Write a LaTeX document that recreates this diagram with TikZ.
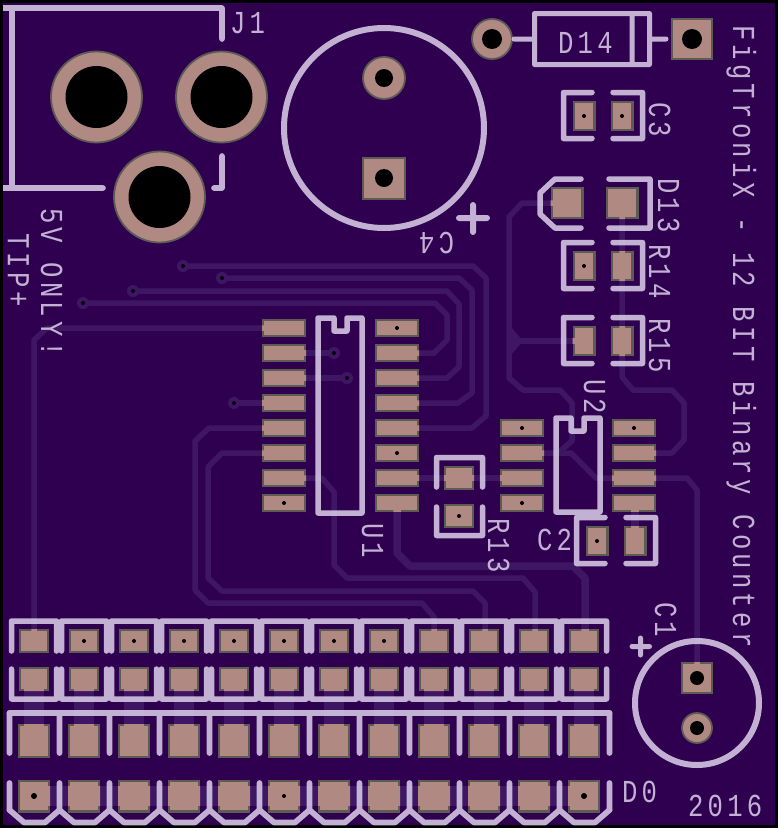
\documentclass[tikz,border=0pt]{standalone}
\usepackage{fontspec}
\setmainfont[FakeStretch=0.8,LetterSpace=13.4]{Liberation Mono}
\definecolor{board}{HTML}{300050}
\definecolor{trace}{HTML}{3E1664}
\definecolor{silk}{HTML}{DCD1EB}
\definecolor{padfill}{HTML}{B08A82}
\definecolor{padedge}{HTML}{5C5C54}
\tikzset{
  x=1pt,y=-1pt,
  tr/.style={line width=5.5pt,line join=round,line cap=butt},
  trwide/.style={line width=20pt,line cap=butt},
  sk/.style={draw=silk,line width=5.7pt,line join=round,line cap=round},
  skthin/.style={draw=silk,line width=5.5pt,line join=round,line cap=round},
  lbl/.style={text=silk,inner sep=0pt,outer sep=0pt,font=\fontsize{32}{32}\selectfont},
  lblv/.style={lbl,rotate=-90,anchor=base west},
  lblh/.style={lbl,anchor=base west},
  hole/.style={fill=black,draw=none},
  padr/.style={fill=padfill,draw=padedge,line width=2.2pt},
  viaring/.style={fill=trace,draw=none}
}
% rectangular pads: x/y/w/h
\newcommand\smdlist{584/116/23/30,622/116/23/30,567/203/33/32,622/203/33/32,584/266/23/30,622/266/23/30,584/341/23/30,622/341/23/30,%
 284/328/44/17.5,284/353/44/17.5,284/378/44/17.5,284/403/44/17.5,284/428/44/17.5,284/453/44/17.5,284/478/44/17.5,284/503/44/17.5,%
 397/328/44/17.5,397/353/44/17.5,397/378/44/17.5,397/403/44/17.5,397/428/44/17.5,397/453/44/17.5,397/478/44/17.5,397/503/44/17.5,%
 522/428/44/17.5,522/453/44/17.5,522/478/44/17.5,522/503/44/17.5,634/428/44/17.5,634/453/44/17.5,634/478/44/17.5,634/503/44/17.5,%
 459/478/30/24,459/516/30/24,597/541/23/30,635/541/23/30,697/678/32/32}
\newcommand\rowlist{641/30/24,679/30/24,741/32/34,796/32/33}
\newcommand\alltraces[1]{%
 \begin{scope}[draw=#1]
 \draw[tr] (183,266) -- (473,266) -- (486,278) -- (486,416) -- (472,428) -- (397,428);
 \draw[tr] (222,278) -- (459,278) -- (472,290) -- (472,393) -- (458,403) -- (397,403);
 \draw[tr] (133,291) -- (447,291) -- (459,304) -- (459,367) -- (447,378) -- (397,378);
 \draw[tr] (83,303) -- (435,303) -- (447,315) -- (447,340) -- (434,353) -- (397,353);
 \draw[tr] (284,328) -- (47,328) -- (34,340) -- (34,641);
 \draw[tr] (284,353) -- (334,353);
 \draw[tr] (284,378) -- (347,378);
 \draw[tr] (284,403) -- (234,403);
 \draw[tr] (284,428) -- (209,428) -- (195,441) -- (195,590) -- (208,603) -- (422,603) -- (434,617) -- (434,641);
 \draw[tr] (284,453) -- (222,453) -- (208,467) -- (208,578) -- (222,591) -- (473,591) -- (485,603) -- (485,641);
 \draw[tr] (284,478) -- (322,478) -- (334,492) -- (334,565) -- (347,578) -- (523,578) -- (535,592) -- (535,641);
 \draw[tr,line width=7.5pt] (397,503) -- (397,553) -- (410,566) -- (573,566) -- (585,578) -- (585,641);
 \draw[tr] (397,478) -- (522,478);
 \draw[tr] (522,453) -- (571,453) -- (596,478) -- (634,478) -- (687,478) -- (697,490) -- (697,678);
 \draw[tr] (634,453) -- (672,453) -- (684,440) -- (684,403) -- (672,390) -- (633,390) -- (622,377) -- (622,203);
 \draw[tr] (567,203) -- (522,203) -- (509,217) -- (509,378) -- (523,390) -- (560,390) -- (572,403) -- (572,441) -- (558,453);
 \draw[tr] (584,341) -- (509,341);
 \draw[tr,line width=8pt] (634.5,503) -- (634.5,541);
 \foreach \i in {0,...,11} { \draw[trwide] ({34+50*\i},679) -- ({34+50*\i},741); }
 \draw[trwide] (34,796) -- (584,796);
 \end{scope}}
\begin{document}
\begin{tikzpicture}
\useasboundingbox (0,0) rectangle (778,828);
\fill[black] (0,0) rectangle (778,828);
\begin{scope}
\clip (3,3) rectangle (775,825);
\fill[board] (3,3) rectangle (775,825);
% copper
\alltraces{trace}
\fill[trace] (511,327) -- (523,341) -- (511,355) -- cycle;
\foreach \vx/\vy in {183/266,222/278,133/291,83/303,334/353,347/378,234/403}{
  \fill[viaring] (\vx,\vy) circle (6);
  \fill[hole] (\vx,\vy) circle (2);
}
% through-hole round pads
\foreach \cx/\cy/\ro in {96.5/97/45.5,221.5/97/45.5,159.5/197/45.5,384/78/21,492/39/20,697/728/15}{
  \filldraw[fill=padfill,draw=padedge,line width=1.8pt] (\cx,\cy) circle (\ro);
}
% rectangular pads
\foreach \x/\y/\w/\h in \smdlist {
  \filldraw[padr] ({\x-\w/2+1.1},{\y-\h/2+1.1}) rectangle ({\x+\w/2-1.1},{\y+\h/2-1.1});
}
\filldraw[padr] (363.1,158.1) rectangle (404.9,198.9);
\filldraw[padr] (672.1,19.1) rectangle (711.9,58.9);
\foreach \i in {0,...,11}{
  \foreach \y/\w/\h in \rowlist {
    \filldraw[padr] ({34+50*\i-\w/2+1.1},{\y-\h/2+1.1}) rectangle ({34+50*\i+\w/2-1.1},{\y+\h/2-1.1});
  }
}
% traces entering pads take the pad colour
\begin{scope}
\clip \foreach \x/\y/\w/\h in \smdlist { ({\x-\w/2},{\y-\h/2}) rectangle ({\x+\w/2},{\y+\h/2}) }
      \foreach \i in {0,...,11} { \foreach \y/\w/\h in \rowlist { ({34+50*\i-\w/2},{\y-\h/2}) rectangle ({34+50*\i+\w/2},{\y+\h/2}) } };
\alltraces{padfill}
\end{scope}
% drilled holes
\foreach \cx/\cy/\ri in {96.5/97/31,221.5/97/31,159.5/197/31,384/78/9,384/178/9,492/39/10,692/39/10,697/678/7,697/728/7,34/796/3,584/796/3}{
  \fill[hole] (\cx,\cy) circle (\ri);
}
\foreach \cx/\cy in {584/116,622/116,584/266,397/328,397/453,284/503,459/516,522/428,522/503,634/428,597/541,284/796,
  84/641,134/641,184/641,234/641,284/641,334/641,384/641}{
  \fill[hole] (\cx,\cy) circle (2);
}
% silkscreen, slightly see-through as on the board
\begin{scope}[transparency group,opacity=.85]
\draw[sk] (0,8) -- (222,8) -- (222,39);
\draw[sk] (12,8) -- (12,188);
\draw[sk] (0,188) -- (103,188);
\draw[sk] (222,156) -- (222,188) -- (214,188);
\draw[skthin,line width=6pt] (384,128) circle (100);
\draw[sk,line width=6pt] (459,218) -- (487,218) (473,205) -- (473,232);
\draw[sk,line width=5pt] (514,39) -- (534.5,39) (534.5,13.5) rectangle (649.5,64.5) (632,13.5) -- (632,64.5) (649.5,39) -- (666,39);
% two-part brackets
\foreach \yt/\yb in {92.5/138.5,242.5/288.5,317.5/363.5}{
  \draw[skthin] (592,\yt) -- (563.5,\yt) -- (563.5,\yb) -- (592,\yb);
  \draw[skthin] (613,\yt) -- (642.5,\yt) -- (642.5,\yb) -- (613,\yb);
}
\draw[skthin] (581,179) -- (555,179) -- (540,193) -- (540,214) -- (555,228) -- (581,228);
\draw[skthin] (609,179) -- (650,179) -- (650,228) -- (609,228);
\draw[skthin] (436.5,487) -- (436.5,457.5) -- (482.5,457.5) -- (482.5,487);
\draw[skthin] (436.5,507) -- (436.5,535.5) -- (482.5,535.5) -- (482.5,507);
\draw[skthin] (605,517.5) -- (576.5,517.5) -- (576.5,563.5) -- (605,563.5);
\draw[skthin] (626,517.5) -- (655.5,517.5) -- (655.5,563.5) -- (626,563.5);
% IC outlines
\draw[skthin] (318,318) -- (334,318) -- (334,331) -- (347,331) -- (347,318) -- (362,318) -- (362,513) -- (318,513) -- cycle;
\draw[skthin] (556,418) -- (571,418) -- (571,431) -- (584,431) -- (584,418) -- (600,418) -- (600,512) -- (556,512) -- cycle;
% connector rows
\foreach \i in {0,...,11}{
  \draw[skthin] ({11.5+50*\i},651) -- ({11.5+50*\i},621) -- ({56.5+50*\i},621) -- ({56.5+50*\i},651);
  \draw[skthin] ({11.5+50*\i},669) -- ({11.5+50*\i},699) -- ({56.5+50*\i},699) -- ({56.5+50*\i},669);
}
\draw[sk] (9.5,713) -- (609.5,713);
\foreach \j in {0,...,12}{
  \draw[sk] ({9.5+50*\j},713) -- ({9.5+50*\j},753);
  \draw[sk] ({9.5+50*\j},783) -- ({9.5+50*\j},810);
}
\foreach \j in {0,...,11}{
  \draw[sk] ({9.5+50*\j},810) -- ({24+50*\j},822.5) -- ({45+50*\j},822.5) -- ({59.5+50*\j},810);
}
% C1
\draw[skthin,line width=6pt] (697,703) circle (62);
\draw[sk,line width=5pt] (632,646.5) -- (649.5,646.5) (640.5,638) -- (640.5,655);
% texts
\node[lblv] (tTitle) at (733,25) {FigTroniX - 12 BIT Binary Counter};
\node[lblv] (tFive) at (41,208) {5V ONLY!};
\node[lblv] (tTip) at (8,233) {TIP+};
\node[lblh] (tJ) at (230,33) {J1};
\node[lblh] (tD14) at (558,53) {D14};
\node[lblv] (tC3) at (649,102) {C3};
\node[lblv] (tD13) at (658,178) {D13};
\node[lblv] (tR14) at (649,244) {R14};
\node[lblv] (tR15) at (649,318) {R15};
\node[lblv] (tU2) at (584,379) {U2};
\node[lblv] (tR13) at (488,518) {R13};
\node[lblv] (tU1) at (362,523) {U1};
\node[lblh] (tC2) at (537,550) {C2};
\node[lblv] (tC1) at (655,602) {C1};
\node[lblh] (tD0) at (622,802) {D0};
\node[lblh] (tYear) at (688,816) {2016};
\node[lbl,rotate=180,anchor=base west] (tC4) at (454,232) {C4};
\end{scope}
\end{scope}
\end{tikzpicture}
\end{document}
